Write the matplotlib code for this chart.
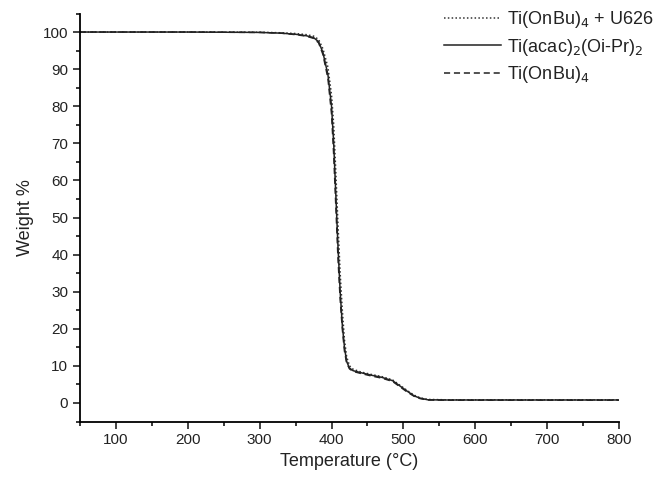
#!/usr/bin/env python3
"""
TGA curves of titanium precursors
"""

import numpy as np
import matplotlib
matplotlib.use("Agg")
import matplotlib.pyplot as plt
from matplotlib.ticker import MultipleLocator

plt.rcParams['font.family'] = ['Liberation Sans', 'DejaVu Sans']

# temperature (°C) and weight %
temp = [50, 100, 200, 300, 330, 350, 365, 375, 382, 388, 395, 400, 403,
        406, 409, 412, 415, 418, 421, 425, 430, 440, 455, 470, 485, 495,
        505, 515, 523, 534, 560, 600, 700, 800]
w_u626 = [100, 100, 100, 99.95, 99.8, 99.6, 99.3, 98.9, 98.0, 95.5, 90.5,
          83, 75, 62, 48, 35, 25, 17, 12.5, 10.0, 9.1, 8.4, 7.7, 7.1, 6.2,
          4.8, 3.4, 2.1, 1.4, 0.95, 0.85, 0.85, 0.85, 0.85]
w_acac = [100, 100, 100, 99.9, 99.7, 99.4, 99.0, 98.5, 97.4, 94.5, 88.5,
          80, 70, 56, 42, 30, 21, 15, 11.2, 9.4, 8.7, 8.2, 7.5, 6.9, 6.0,
          4.6, 3.2, 1.9, 1.3, 0.85, 0.8, 0.8, 0.8, 0.8]
w_onbu = [100, 100, 100, 99.9, 99.7, 99.3, 98.9, 98.3, 97.1, 94.0, 87.5,
          78, 67, 53, 39, 28, 20, 14, 10.8, 9.2, 8.5, 8.0, 7.3, 6.7, 5.8,
          4.4, 3.0, 1.8, 1.2, 0.8, 0.75, 0.75, 0.75, 0.75]

labels = [r'Ti(OnBu)$_4$ + U626', r'Ti(acac)$_2$(Oi-Pr)$_2$', r'Ti(OnBu)$_4$']


def main():
    fig = plt.figure(figsize=(6.54, 4.78), dpi=100)
    ax = fig.add_axes([80 / 654, 1 - 421.5 / 478, 539 / 654, 408 / 478])

    ax.plot(temp, w_u626, color='#333333', lw=1.1, ls=(0, (1, 1.5)), label=labels[0])
    ax.plot(temp, w_acac, color='#222222', lw=1.1, ls='-', label=labels[1])
    ax.plot(temp, w_onbu, color='#222222', lw=1.1, ls=(0, (4, 2.5)), label=labels[2])

    ax.set_xlim(50, 800)
    ax.set_ylim(-5, 105)
    ax.xaxis.set_major_locator(MultipleLocator(100))
    ax.xaxis.set_minor_locator(MultipleLocator(50))
    ax.yaxis.set_major_locator(MultipleLocator(10))
    ax.yaxis.set_minor_locator(MultipleLocator(5))
    ax.set_xticks(range(100, 801, 100))

    for s in ('top', 'right'):
        ax.spines[s].set_visible(False)
    for s in ('left', 'bottom'):
        ax.spines[s].set_linewidth(1.3)
    ax.tick_params(which='major', direction='out', length=5, width=1.2,
                   labelsize=11, colors='#222222')
    ax.tick_params(which='minor', direction='out', length=3, width=1.1)

    ax.set_xlabel('Temperature (°C)', fontsize=13, color='#222222', labelpad=4)
    ax.set_ylabel('Weight %', fontsize=13, color='#222222', labelpad=6)

    leg = ax.legend(loc='upper right', bbox_to_anchor=(1.094, 1.05), frameon=False,
                    fontsize=13, handlelength=3.2, handletextpad=0.3,
                    labelspacing=0.35)
    for t in leg.get_texts():
        t.set_color('#222222')

    fig.savefig('out.png', dpi=100)


if __name__ == "__main__":
    main()
